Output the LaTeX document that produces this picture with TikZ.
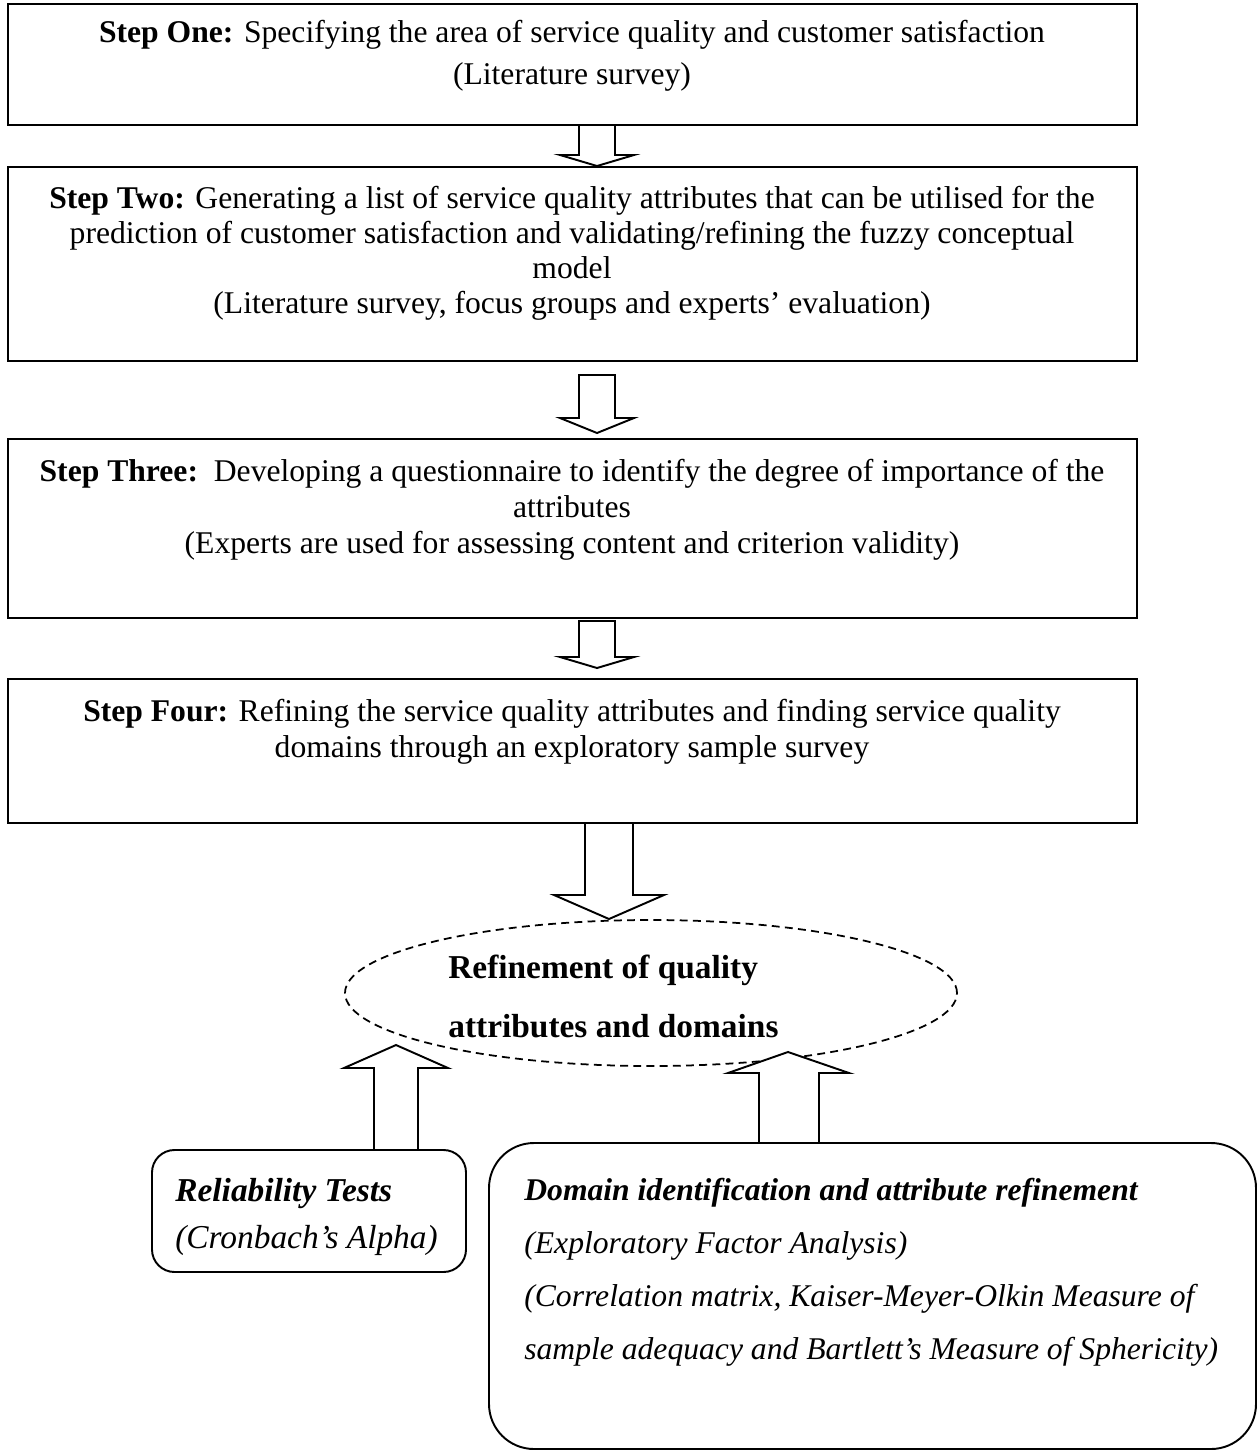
\documentclass[tikz,border=0pt]{standalone}
\usepackage{fontspec}
\setmainfont{Liberation Serif}
\usetikzlibrary{shapes.geometric,fit}
\tikzset{
  boxframe/.style={draw, line width=1.3pt, inner sep=0pt},
  rbox/.style={draw, line width=1.1pt, inner sep=0pt},
  txt/.style={anchor=base, inner sep=0pt, font=\fontsize{18}{21}\selectfont},
  ltxt/.style={anchor=base west, inner sep=0pt, font=\fontsize{18}{21}\selectfont},
  lbtxt/.style={anchor=base west, inner sep=0pt, font=\fontsize{19}{22}\selectfont},
  barrow/.style={draw, line width=1.1pt, fill=white, line join=miter},
}
\newcommand{\downarrowshape}[7]{% x, ytop, ybase, ytip, shaft half, head half, name
  \draw[barrow] (#1-#5,#2) -- (#1-#5,#3) -- (#1-#6,#3) -- (#1,#4) -- (#1+#6,#3) -- (#1+#5,#3) -- (#1+#5,#2) -- cycle;
  \coordinate (#7) at (#1,#4);
}
\begin{document}
\begin{tikzpicture}[x=0.02cm,y=-0.02cm]
\useasboundingbox (0,0) rectangle (1259,1451);

% boxes
\node[boxframe, fit={(8,4) (1137,125)}] (b1) {};
\node[boxframe, fit={(8,167) (1137,361)}] (b2) {};
\node[boxframe, fit={(8,439) (1137,618)}] (b3) {};
\node[boxframe, fit={(8,679) (1137,823)}] (b4) {};

% texts
\node[txt] (t1a) at (572,42) {\textbf{Step One:} Specifying the area of service quality and customer satisfaction};
\node[txt] (t1b) at (572,84) {(Literature survey)};

\node[txt] (t2a) at (572,208) {\textbf{Step Two:} Generating a list of service quality attributes that can be utilised for the};
\node[txt] (t2b) at (572,243) {prediction of customer satisfaction and validating/refining the fuzzy conceptual};
\node[txt] (t2c) at (572,278) {model};
\node[txt] (t2d) at (572,313) {(Literature survey, focus groups and experts’ evaluation)};

\node[txt] (t3a) at (572,481) {\textbf{Step Three:}\ \ Developing a questionnaire to identify the degree of importance of the};
\node[txt] (t3b) at (572,517) {attributes};
\node[txt] (t3c) at (572,553) {(Experts are used for assessing content and criterion validity)};

\node[txt] (t4a) at (572,721) {\textbf{Step Four:} Refining the service quality attributes and finding service quality};
\node[txt] (t4b) at (572,757) {domains through an exploratory sample survey};

% block arrows between steps
\downarrowshape{597}{125}{155}{166}{18}{37}{a1}
\downarrowshape{597}{375}{418}{433}{18}{37}{a2}
\downarrowshape{597}{621}{657}{668}{18}{37}{a3}
\downarrowshape{609}{823}{895}{919}{24}{55}{a4}

% ellipse
\node[ellipse, draw, line width=1pt, dash pattern=on 4.5pt off 3pt, minimum width=612*0.02cm, minimum height=146*0.02cm, inner sep=0pt] (ell) at (651,993) {};
\node[lbtxt] (e1) at (448,978) {\textbf{Refinement of quality}};
\node[lbtxt] (e2) at (448,1037) {\textbf{attributes and domains}};

% bottom boxes
\node[rbox, rounded corners=0.45cm, fit={(152,1150) (466,1272)}] (rel) {};
\node[rbox, rounded corners=0.9cm, fit={(489,1143) (1256,1449)}] (dom) {};

\node[lbtxt] (r1) at (175,1201) {\textbf{\textit{Reliability Tests}}};
\node[lbtxt] (r2) at (175,1248) {\textit{(Cronbach’s Alpha)}};

\node[ltxt] (d1) at (524,1200) {\textbf{\textit{Domain identification and attribute refinement}}};
\node[ltxt] (d2) at (524,1253) {\textit{(Exploratory Factor Analysis)}};
\node[ltxt] (d3) at (524,1306) {\textit{(Correlation matrix, Kaiser-Meyer-Olkin Measure of}};
\node[ltxt] (d4) at (524,1359) {\textit{sample adequacy and Bartlett’s Measure of Sphericity)}};

% upward block arrows
\draw[barrow] (374,1150) -- (374,1068) -- (344,1068) -- (396,1045) -- (448,1068) -- (418,1068) -- (418,1150) -- cycle;
\draw[barrow] (759,1143) -- (759,1073) -- (728,1073) -- (788,1052) -- (849,1073) -- (819,1073) -- (819,1143) -- cycle;
\end{tikzpicture}
\end{document}
